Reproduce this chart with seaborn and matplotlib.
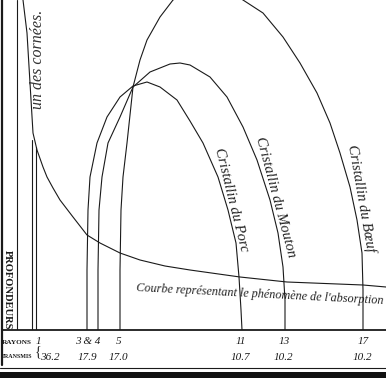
#! /usr/bin/env python3
import seaborn as sns
import pandas as pd
import matplotlib.pyplot as plt
from matplotlib.lines import Line2D
from matplotlib import patches as mpatches


# Output
OUTPUT_FILENAME = "out.png"
DPI = 100

# Plate units: x along the spectrum, y = depth (profondeur) above the base line
X_MAX = 384
Y_MAX = 330

# Rays (rayons) and transmitted values, positions along the base line
RAY_LABELS = ["1", "3 & 4", "5", "11", "13", "17"]
RAY_POS = [35, 85, 116, 238, 281, 360]
TRANSMIS = ["36.2", "17.9", "17.0", "10.7", "10.2", "10.2"]

# Straight ray lines (x, top of the line)
RAY_LINE_X = [15, 30, 34]
RAY_LINE_TOP = [330, 190, 183]

# Curves
PORC_X = [85, 85, 86, 88, 95, 105, 118, 131, 145, 158, 175, 188, 201, 216, 226, 234, 237, 239, 240]
PORC_Y = [0, 60, 120, 153, 187, 213, 233, 244, 248, 243, 230, 209, 187, 153, 120, 87, 53, 20, 0]

MOUTON_X = [96, 96, 97, 100, 106, 118, 131, 148, 168, 178, 188, 208, 225, 241, 255, 268, 276, 281, 283, 283]
MOUTON_Y = [0, 60, 120, 153, 187, 213, 243, 258, 266, 267, 265, 253, 233, 203, 170, 130, 97, 63, 30, 0]

BOEUF_X = [118, 118, 119, 121, 125, 131, 138, 145, 158, 171, 188, 206, 224, 241, 261, 281, 298, 315,
           328, 338, 348, 355, 360, 361, 361]
BOEUF_Y = [0, 60, 120, 153, 187, 243, 270, 290, 313, 330, 340, 344, 340, 330, 317, 293, 267, 237,
           207, 177, 143, 110, 77, 40, 0]

# Courbe de l'absorption (with the cornées branch at the top left)
ABSORB_X = [21, 25, 28, 31, 35, 41, 45, 51, 58, 71, 85, 98, 118, 138, 163, 188, 238, 285, 361, 384]
ABSORB_Y = [330, 297, 247, 197, 180, 163, 153, 142, 130, 113, 95, 87, 77, 70, 64, 60, 53, 48, 45, 43]


def build_frame():
    rows = []
    curves = {
        'porc': (PORC_X, PORC_Y),
        'mouton': (MOUTON_X, MOUTON_Y),
        'boeuf': (BOEUF_X, BOEUF_Y),
        'absorption': (ABSORB_X, ABSORB_Y),
    }
    for name, (xs, ys) in curves.items():
        for i, (x, y) in enumerate(zip(xs, ys)):
            rows.append({'curve': name, 'order': i, 'x': x, 'y': y})
    # vertical ray lines, two points each
    for i, (x, top) in enumerate(zip(RAY_LINE_X, RAY_LINE_TOP)):
        rows.append({'curve': f'ray{i}', 'order': 0, 'x': x, 'y': 0})
        rows.append({'curve': f'ray{i}', 'order': 1, 'x': x, 'y': top})
    return pd.DataFrame(rows)


def main():
    sns.set_theme(style='white')
    plt.rcParams['font.family'] = ['Liberation Serif', 'DejaVu Serif']

    f = plt.figure(figsize=(3.86, 3.78), dpi=DPI)
    ax = f.add_axes([2 / 386, 48 / 378, 384 / 386, 330 / 378])

    df = build_frame()
    sns.lineplot(data=df, x='x', y='y', units='curve', estimator=None, sort=False,
                 color='#1a1a1a', lw=0.8, ax=ax, legend=False)

    ax.set_xlim(0, X_MAX)
    ax.set_ylim(0, Y_MAX)
    ax.set(xlabel='', ylabel='', xticks=[], yticks=[])
    ax.set_facecolor('white')
    for side in ['top', 'right']:
        ax.spines[side].set_visible(False)
    ax.spines['bottom'].set_linewidth(1.3)
    ax.spines['bottom'].set_color('#1a1a1a')
    ax.spines['left'].set_visible(False)
    # left border runs down past the base line
    ax.axvline(0, ymin=-35 / Y_MAX, ymax=1, color='#1a1a1a', lw=1.6, clip_on=False)

    # curve labels, set just outside each curve
    lab = dict(fontsize=10.5, style='italic', color='#222222', ha='center', va='center',
               rotation_mode='anchor')
    ax.text(229, 130, "Cristallin du Porc", rotation=-76, **lab)
    ax.text(273, 133, "Cristallin du Mouton", rotation=-75, **lab)
    ax.text(359, 132, "Cristallin du Bœuf", rotation=-80, **lab)
    ax.text(36, 271, "un des cornées.", rotation=90, fontsize=11.5, style='italic',
            color='#333333', ha='center', va='center')
    ax.text(134, 42, "Courbe représentant le phénomène de l'absorption", rotation=-3,
            rotation_mode='anchor', fontsize=8.7, style='italic', color='#222222',
            ha='left', va='center', clip_on=False)
    ax.text(5, 40, "PROFONDEURS", rotation=-90, fontsize=7.6, fontweight='bold',
            color='#1a1a1a', ha='center', va='center')

    # rays / transmitted values under the base line
    for i, (lbl, pos, val) in enumerate(zip(RAY_LABELS, RAY_POS, TRANSMIS)):
        ax.text(pos + 1, -11, lbl, fontsize=8, style='italic', ha='center', va='center',
                color='#1a1a1a', clip_on=False)
        dx = 13 if i == 0 else 0
        ax.text(pos + dx, -27, val, fontsize=8, style='italic', ha='center', va='center',
                color='#1a1a1a', clip_on=False)
    ax.text(15, -13, "RAYONS", fontsize=5.2, fontweight='bold', ha='center', va='center',
            color='#1a1a1a', clip_on=False)
    ax.text(15, -27, "TRANSMIS", fontsize=4.3, fontweight='bold', ha='center', va='center',
            color='#1a1a1a', clip_on=False)
    ax.text(36, -22, "{", fontsize=10, ha='center', va='center', color='#1a1a1a',
            clip_on=False)

    # bottom double rule
    f.add_artist(Line2D([0, 1], [1 - 368 / 378] * 2, color='#1a1a1a', lw=0.8))
    f.add_artist(mpatches.Rectangle((0, 0), 1, 6 / 378, color='#111111', lw=0))

    f.savefig(OUTPUT_FILENAME, dpi=DPI)


if __name__ == "__main__":
    main()
